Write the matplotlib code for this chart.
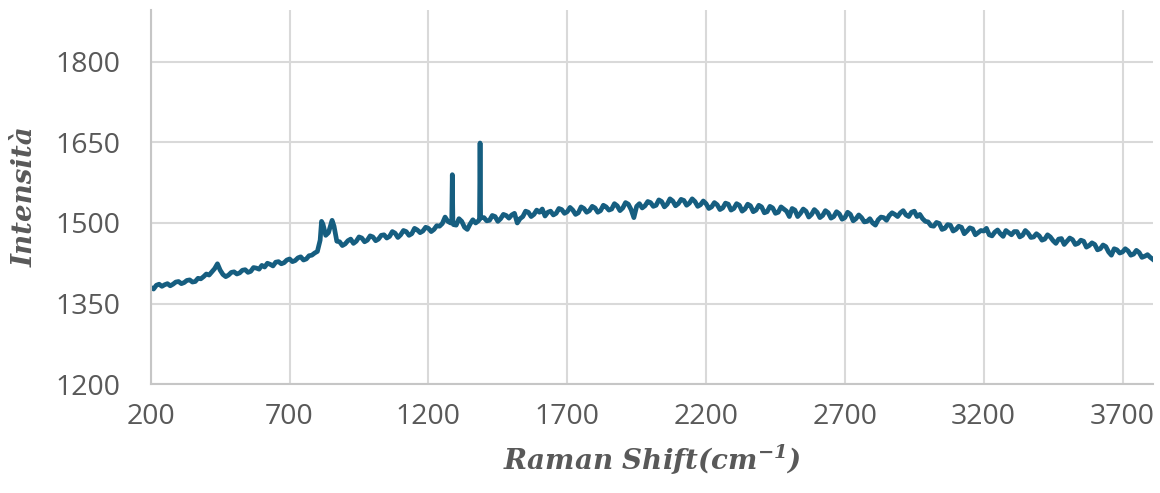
import numpy as np
import matplotlib.pyplot as plt

# Spettro Raman: valori ogni 20 cm-1 (200-3800)
shift = np.arange(200, 3820, 20)
intensita = [
    1380, 1384, 1382, 1387, 1386, 1391, 1389, 1394, 1391, 1396,   # 200-380
    1405, 1409, 1424, 1404, 1403, 1409, 1407, 1413, 1410, 1416,   # 400-580
    1421, 1425, 1420, 1428, 1426, 1433, 1430, 1437, 1433, 1440,   # 600-780
    1447, 1498, 1482, 1494, 1465, 1461, 1470, 1466, 1472, 1468,   # 800-980
    1474, 1470, 1478, 1475, 1481, 1478, 1484, 1480, 1487, 1485,   # 1000-1180
    1490, 1488, 1494, 1511, 1500, 1496, 1503, 1488, 1506, 1504,   # 1200-1380
    1510, 1505, 1512, 1508, 1514, 1515, 1500, 1512, 1520, 1516,   # 1400-1580
    1520, 1513, 1522, 1518, 1525, 1521, 1524, 1519, 1527, 1523,   # 1600-1780
    1528, 1523, 1530, 1526, 1532, 1528, 1535, 1510, 1536, 1532,   # 1800-1980
    1538, 1533, 1540, 1535, 1541, 1536, 1542, 1537, 1540, 1534,   # 2000-2180
    1536, 1530, 1534, 1528, 1535, 1527, 1533, 1526, 1532, 1524,   # 2200-2380
    1530, 1521, 1528, 1520, 1526, 1512, 1524, 1518, 1522, 1516,   # 2400-2580
    1520, 1514, 1519, 1512, 1517, 1510, 1516, 1508, 1510, 1503,   # 2600-2780
    1500, 1506, 1510, 1514, 1516, 1519, 1515, 1520, 1512, 1508,   # 2800-2980
    1502, 1494, 1499, 1490, 1496, 1488, 1492, 1485, 1489, 1482,   # 3000-3180
    1485, 1478, 1483, 1480, 1486, 1478, 1484, 1477, 1481, 1474,   # 3200-3380
    1476, 1470, 1474, 1462, 1471, 1466, 1469, 1462, 1466, 1458,   # 3400-3580
    1460, 1452, 1456, 1440, 1450, 1446, 1448, 1442, 1445, 1438,   # 3600-3780
    1436,                                                         # 3800
]

# valori intermedi (210-3790) per il rumore
shift_mezzo = np.arange(210, 3800, 20)
intensita_mezzo = [
    1377, 1386, 1385, 1383, 1390, 1387, 1393, 1390, 1397, 1400,   # 210-390
    1403, 1415, 1412, 1400, 1408, 1405, 1412, 1408, 1417, 1414,   # 410-590
    1418, 1423, 1427, 1424, 1431, 1428, 1435, 1431, 1439, 1444,   # 610-790
    1468, 1477, 1500, 1466, 1458, 1467, 1462, 1474, 1465, 1476,   # 810-990
    1467, 1477, 1472, 1484, 1473, 1486, 1477, 1490, 1482, 1492,   # 1010-1190
    1484, 1495, 1499, 1503, 1497, 1508, 1492, 1498, 1500, 1510,   # 1210-1390
    1504, 1514, 1503, 1516, 1509, 1518, 1508, 1522, 1512, 1524,   # 1410-1590
    1526, 1520, 1515, 1527, 1518, 1529, 1516, 1530, 1520, 1531,   # 1610-1790
    1520, 1533, 1524, 1536, 1523, 1538, 1525, 1531, 1528, 1540,   # 1810-1990
    1531, 1543, 1530, 1545, 1532, 1544, 1533, 1545, 1531, 1541,   # 2010-2190
    1527, 1538, 1525, 1537, 1524, 1536, 1522, 1535, 1521, 1533,   # 2210-2390
    1519, 1531, 1518, 1530, 1522, 1527, 1512, 1526, 1511, 1525,   # 2410-2590
    1510, 1523, 1509, 1521, 1507, 1520, 1504, 1515, 1502, 1508,   # 2610-2790
    1496, 1511, 1505, 1519, 1512, 1523, 1512, 1522, 1516, 1503,   # 2810-2990
    1495, 1501, 1488, 1497, 1485, 1494, 1480, 1491, 1478, 1486,   # 3010-3190
    1490, 1476, 1487, 1475, 1482, 1484, 1474, 1486, 1473, 1480,   # 3210-3390
    1468, 1478, 1467, 1470, 1460, 1472, 1460, 1468, 1455, 1463,   # 3410-3590
    1450, 1459, 1446, 1452, 1444, 1452, 1440, 1449, 1436, 1441,   # 3610-3790
]

# picchi stretti e ultimo punto
picchi_shift = [815, 853, 1284, 1286, 1288, 1384, 1386, 1388, 3810]
picchi_int = [1503, 1505, 1506, 1590, 1504, 1507, 1649, 1509, 1432]

x = np.concatenate([shift, shift_mezzo, picchi_shift])
y = np.concatenate([intensita, intensita_mezzo, picchi_int])
ordine = np.argsort(x)
x, y = x[ordine], y[ordine]

plt.rcParams['mathtext.fontset'] = 'custom'
plt.rcParams['mathtext.rm'] = 'DejaVu Serif:italic:bold'
plt.rcParams['mathtext.it'] = 'DejaVu Serif:italic:bold'

fig = plt.figure(figsize=(11.6, 4.93), dpi=100)
ax = fig.add_axes([0.130, 0.221, 0.864, 0.759])

ax.plot(x, y, color='#165E80', linewidth=3.4, solid_joinstyle='round')

ax.set_xlim(200, 3810)
ax.set_ylim(1200, 1897)
ax.set_xticks([200, 700, 1200, 1700, 2200, 2700, 3200, 3700])
ax.set_yticks([1200, 1350, 1500, 1650, 1800])
ax.grid(True, color='#d9d9d9', linewidth=1.5)
ax.set_axisbelow(True)

for lato in ['top', 'right']:
    ax.spines[lato].set_visible(False)
for lato in ['left', 'bottom']:
    ax.spines[lato].set_color('#c6c6c6')
    ax.spines[lato].set_linewidth(1.5)

ax.tick_params(length=0, labelsize=20.5, labelcolor='#595959')
ax.tick_params(axis='x', pad=14)
ax.tick_params(axis='y', pad=22)
for t in ax.get_xticklabels() + ax.get_yticklabels():
    t.set_family('Open Sans')

ax.set_xlabel('Raman Shift(cm$^{-1}$)', fontsize=20, fontweight='bold', fontstyle='italic',
              family='DejaVu Serif', color='#595959', labelpad=8)
ax.set_ylabel('Intensità', fontsize=20, fontweight='bold', fontstyle='italic',
              family='DejaVu Serif', color='#595959', labelpad=12)

plt.savefig('out.png', dpi=100)
